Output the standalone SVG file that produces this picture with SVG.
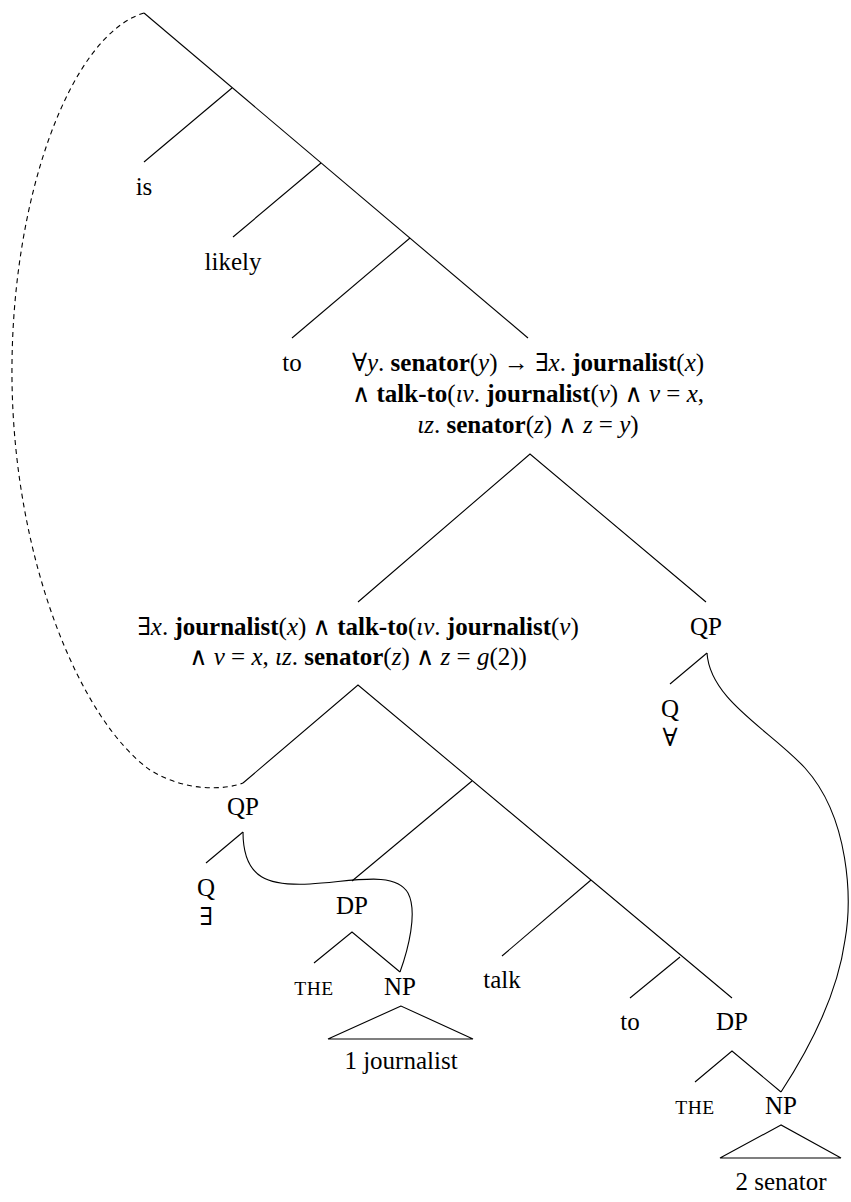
<svg xmlns="http://www.w3.org/2000/svg" width="851" height="1202" viewBox="0 0 851 1202">
<style>
text{font-family:"Liberation Serif","DejaVu Serif",serif;font-size:25px;fill:#000;text-anchor:middle}
.sc{font-size:19.5px;letter-spacing:0.6px}
.i{font-style:italic}
.b{font-weight:bold}
.e{stroke:#000;stroke-width:1.1;fill:none}
.d{stroke:#000;stroke-width:1.1;fill:none;stroke-dasharray:5 4}
</style>
<rect width="851" height="1202" fill="#fff"/>
<g id="connectors">
<path class="e" d="M144,13 L528,338"/>
<path class="e" d="M232,88 L144,162"/>
<path class="e" d="M321,163 L233,237"/>
<path class="e" d="M410,238 L292,338"/>
<path class="e" d="M358,602 L530,454 L706,602"/>
<path class="e" d="M707,653 L670,684"/>
<path class="e" d="M243,783 L358,685 L732,998"/>
<path class="e" d="M472,781 L352,881"/>
<path class="e" d="M591,880 L502,956"/>
<path class="e" d="M680,957 L630,998"/>
<path class="e" d="M243,832 L206,863"/>
<path class="e" d="M314,963 L352,932 L400,972"/>
<path class="e" d="M695,1082 L732,1051 L781,1092"/>
<path class="e" d="M401,1006 L328,1039 L473,1039 Z"/>
<path class="e" d="M781,1125 L720,1158 L841,1158 Z"/>
<path class="e" d="M707,653 C710,700 770,730 805,768 C850,818 852,900 845,940 C838,990 815,1040 781,1092"/>
<path class="e" d="M243,832 C243,880 270,886 310,884 C350,882 395,870 408,893 C418,912 408,950 400,972"/>
<path class="d" d="M144,13 C70,35 10,200 12,380 C14,560 80,720 150,770 C185,792 225,790 243,783"/>
</g>
<g id="n-is"><text x="144" y="195">is</text></g>
<g id="n-likely"><text x="233" y="270">likely</text></g>
<g id="n-to1"><text x="292" y="371">to</text></g>
<g id="n-f1">
<text x="528" y="371">∀<tspan class="i">y</tspan>. <tspan class="b">senator</tspan>(<tspan class="i">y</tspan>) → ∃<tspan class="i">x</tspan>. <tspan class="b">journalist</tspan>(<tspan class="i">x</tspan>)</text>
<text x="528" y="402">∧ <tspan class="b">talk-to</tspan>(<tspan class="i">ιv</tspan>. <tspan class="b">journalist</tspan>(<tspan class="i">v</tspan>) ∧ <tspan class="i">v</tspan> = <tspan class="i">x</tspan>,</text>
<text x="528" y="433"><tspan class="i">ιz</tspan>. <tspan class="b">senator</tspan>(<tspan class="i">z</tspan>) ∧ <tspan class="i">z</tspan> = <tspan class="i">y</tspan>)</text>
</g>
<g id="n-f2">
<text x="358" y="635">∃<tspan class="i">x</tspan>. <tspan class="b">journalist</tspan>(<tspan class="i">x</tspan>) ∧ <tspan class="b">talk-to</tspan>(<tspan class="i">ιv</tspan>. <tspan class="b">journalist</tspan>(<tspan class="i">v</tspan>)</text>
<text x="358" y="665">∧ <tspan class="i">v</tspan> = <tspan class="i">x</tspan>, <tspan class="i">ιz</tspan>. <tspan class="b">senator</tspan>(<tspan class="i">z</tspan>) ∧ <tspan class="i">z</tspan> = <tspan class="i">g</tspan>(2))</text>
</g>
<g id="n-qp1"><text x="706" y="635">QP</text></g>
<g id="n-q1"><text x="670" y="717">Q</text><text x="670" y="746">∀</text></g>
<g id="n-qp2"><text x="243" y="815">QP</text></g>
<g id="n-q2"><text x="206" y="896">Q</text><text x="206" y="925">∃</text></g>
<g id="n-dp1"><text x="352" y="914">DP</text></g>
<g id="n-the1"><text class="sc" x="314" y="995">THE</text></g>
<g id="n-np1"><text x="400" y="995">NP</text></g>
<g id="n-j"><text x="401" y="1069">1 journalist</text></g>
<g id="n-talk"><text x="502" y="988">talk</text></g>
<g id="n-to2"><text x="630" y="1030">to</text></g>
<g id="n-dp2"><text x="732" y="1030">DP</text></g>
<g id="n-the2"><text class="sc" x="695" y="1114">THE</text></g>
<g id="n-np2"><text x="781" y="1114">NP</text></g>
<g id="n-s"><text x="781" y="1190">2 senator</text></g>
</svg>
